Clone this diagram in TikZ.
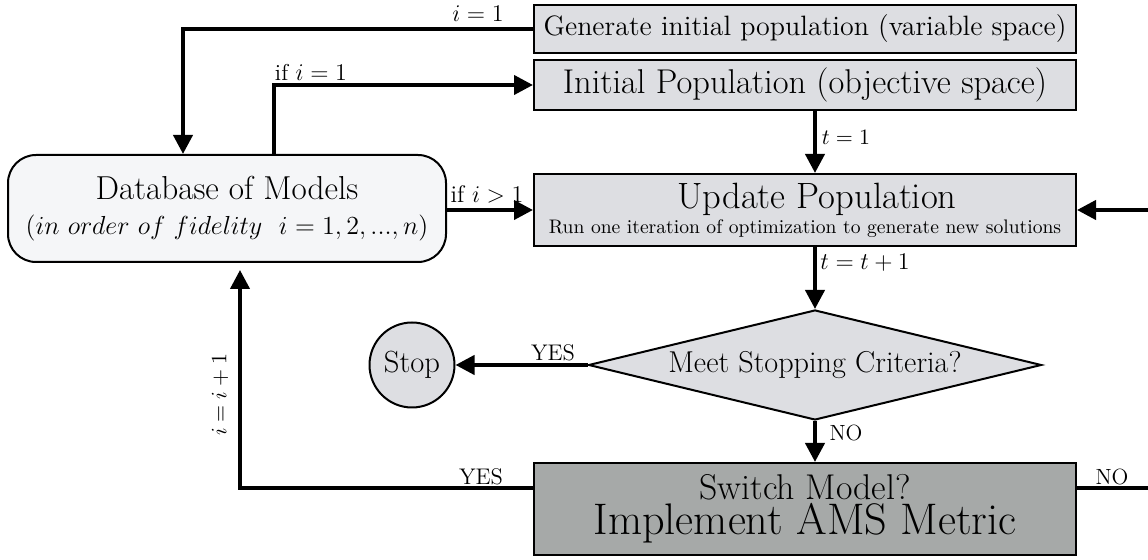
\documentclass[tikz,border=0pt]{standalone}
\usepackage{graphicx}
\usetikzlibrary{arrows.meta,shapes.geometric,calc}
\definecolor{boxgray}{RGB}{221,222,226}
\definecolor{dbfill}{RGB}{245,246,248}
\definecolor{swfill}{RGB}{166,169,168}
\newcommand{\fsz}[2]{\fontsize{#1}{#2}\selectfont}
\begin{document}
\begin{tikzpicture}[x=0.5pt,y=-0.5pt,
  box/.style={draw, line width=1pt, fill=boxgray, inner sep=0pt},
  conn/.style={line width=2pt, -{Triangle[length=9.5pt,width=9.5pt]}},
  lbl/.style={inner sep=0pt, font=\fsz{11.5}{13}}]
\useasboundingbox (0,0) rectangle (1148,560);
\clip (0,0) rectangle (1148,560);
% nodes
\node[box, minimum width=271pt, minimum height=24pt, font=\fsz{14}{16}] (gen) at (805,29) {Generate initial population (variable space)};
\node[box, minimum width=271pt, minimum height=25pt, font=\fsz{17.2}{18}] (ini) at (805,85) {Initial Population (objective space)};
\node[box, minimum width=271pt, minimum height=36pt, align=center, font=\fsz{9.8}{12.5}] (upd) at (805,210) {{\fsz{18.3}{12.5}\hspace*{12pt}Update Population}\\Run one iteration of optimization to generate new solutions};
\node[draw, line width=1pt, fill=dbfill, rounded corners=14pt, inner sep=0pt, minimum width=219pt, minimum height=53.5pt, align=center, font=\fsz{16.6}{17.5}] (db) at (227,208.5) {Database of Models\\{\fsz{15.2}{17.5}\scalebox{0.905}{$(in~order~of~fidelity~~i=1,2,...,n)$}}};
\node[box, diamond, aspect=4.12, minimum width=226.5pt, minimum height=55pt, font=\fsz{15.1}{17}] (dia) at (815,365) {Meet Stopping Criteria?};
\node[box, circle, minimum size=42.5pt, font=\fsz{15.3}{18}] (stop) at (412,365) {Stop};
\node[box, fill=swfill, minimum width=271pt, minimum height=46pt, align=center, font=\fsz{22.1}{17.5}] (sw) at (805,509) {{\fsz{17.9}{17.5}Switch Model?}\\Implement AMS Metric};
% helper coordinates
\coordinate (xa) at (183,0);
\coordinate (xb) at (274,0);
\coordinate (xm) at (815,0);
\coordinate (xc) at (240,0);
\coordinate (yl) at (0,488);
\coordinate (rc) at (1180,0);
% connectors
\draw[conn] (gen.west) -| (db.north -| xa);
\draw[conn] (db.north -| xb) |- (ini.west);
\draw[conn] (ini.south -| xm) -- (upd.north -| xm);
\draw[conn] (db.east |- upd.west) -- (upd.west);
\draw[conn] (upd.south -| xm) -- (dia.north);
\draw[conn] (dia.west) -- (stop.east);
\draw[conn] (dia.south) -- (sw.north -| dia.south);
\draw[conn, shorten >=3.5pt] (sw.west |- yl) -| (db.south -| xc);
\draw[conn] (sw.east |- yl) -| (rc |- upd.east) -- (upd.east);
% labels
\node[lbl] (l1) at (478,14) {$i=1$};
\node[lbl] (l2) at (311,72) {if $i=1$};
\node[lbl, font=\fsz{12}{14}] (l3) at (487,194) {if $i>1$};
\node[lbl, font=\fsz{11}{13}] (l4) at (846,137) {$t=1$};
\node[lbl] (l5) at (865,263) {$t=t+1$};
\node[lbl, font=\fsz{11.3}{13}] (l6) at (553,353) {YES};
\node[lbl, font=\fsz{11}{13}] (l7) at (846,433) {NO};
\node[lbl, font=\fsz{11.3}{13}] (l8) at (481,477) {YES};
\node[lbl, font=\fsz{11}{13}] (l9) at (1112,477) {NO};
\node[lbl, rotate=90, font=\fsz{11}{13}] (l10) at (220,395) {$i=i+1$};
\end{tikzpicture}
\end{document}
